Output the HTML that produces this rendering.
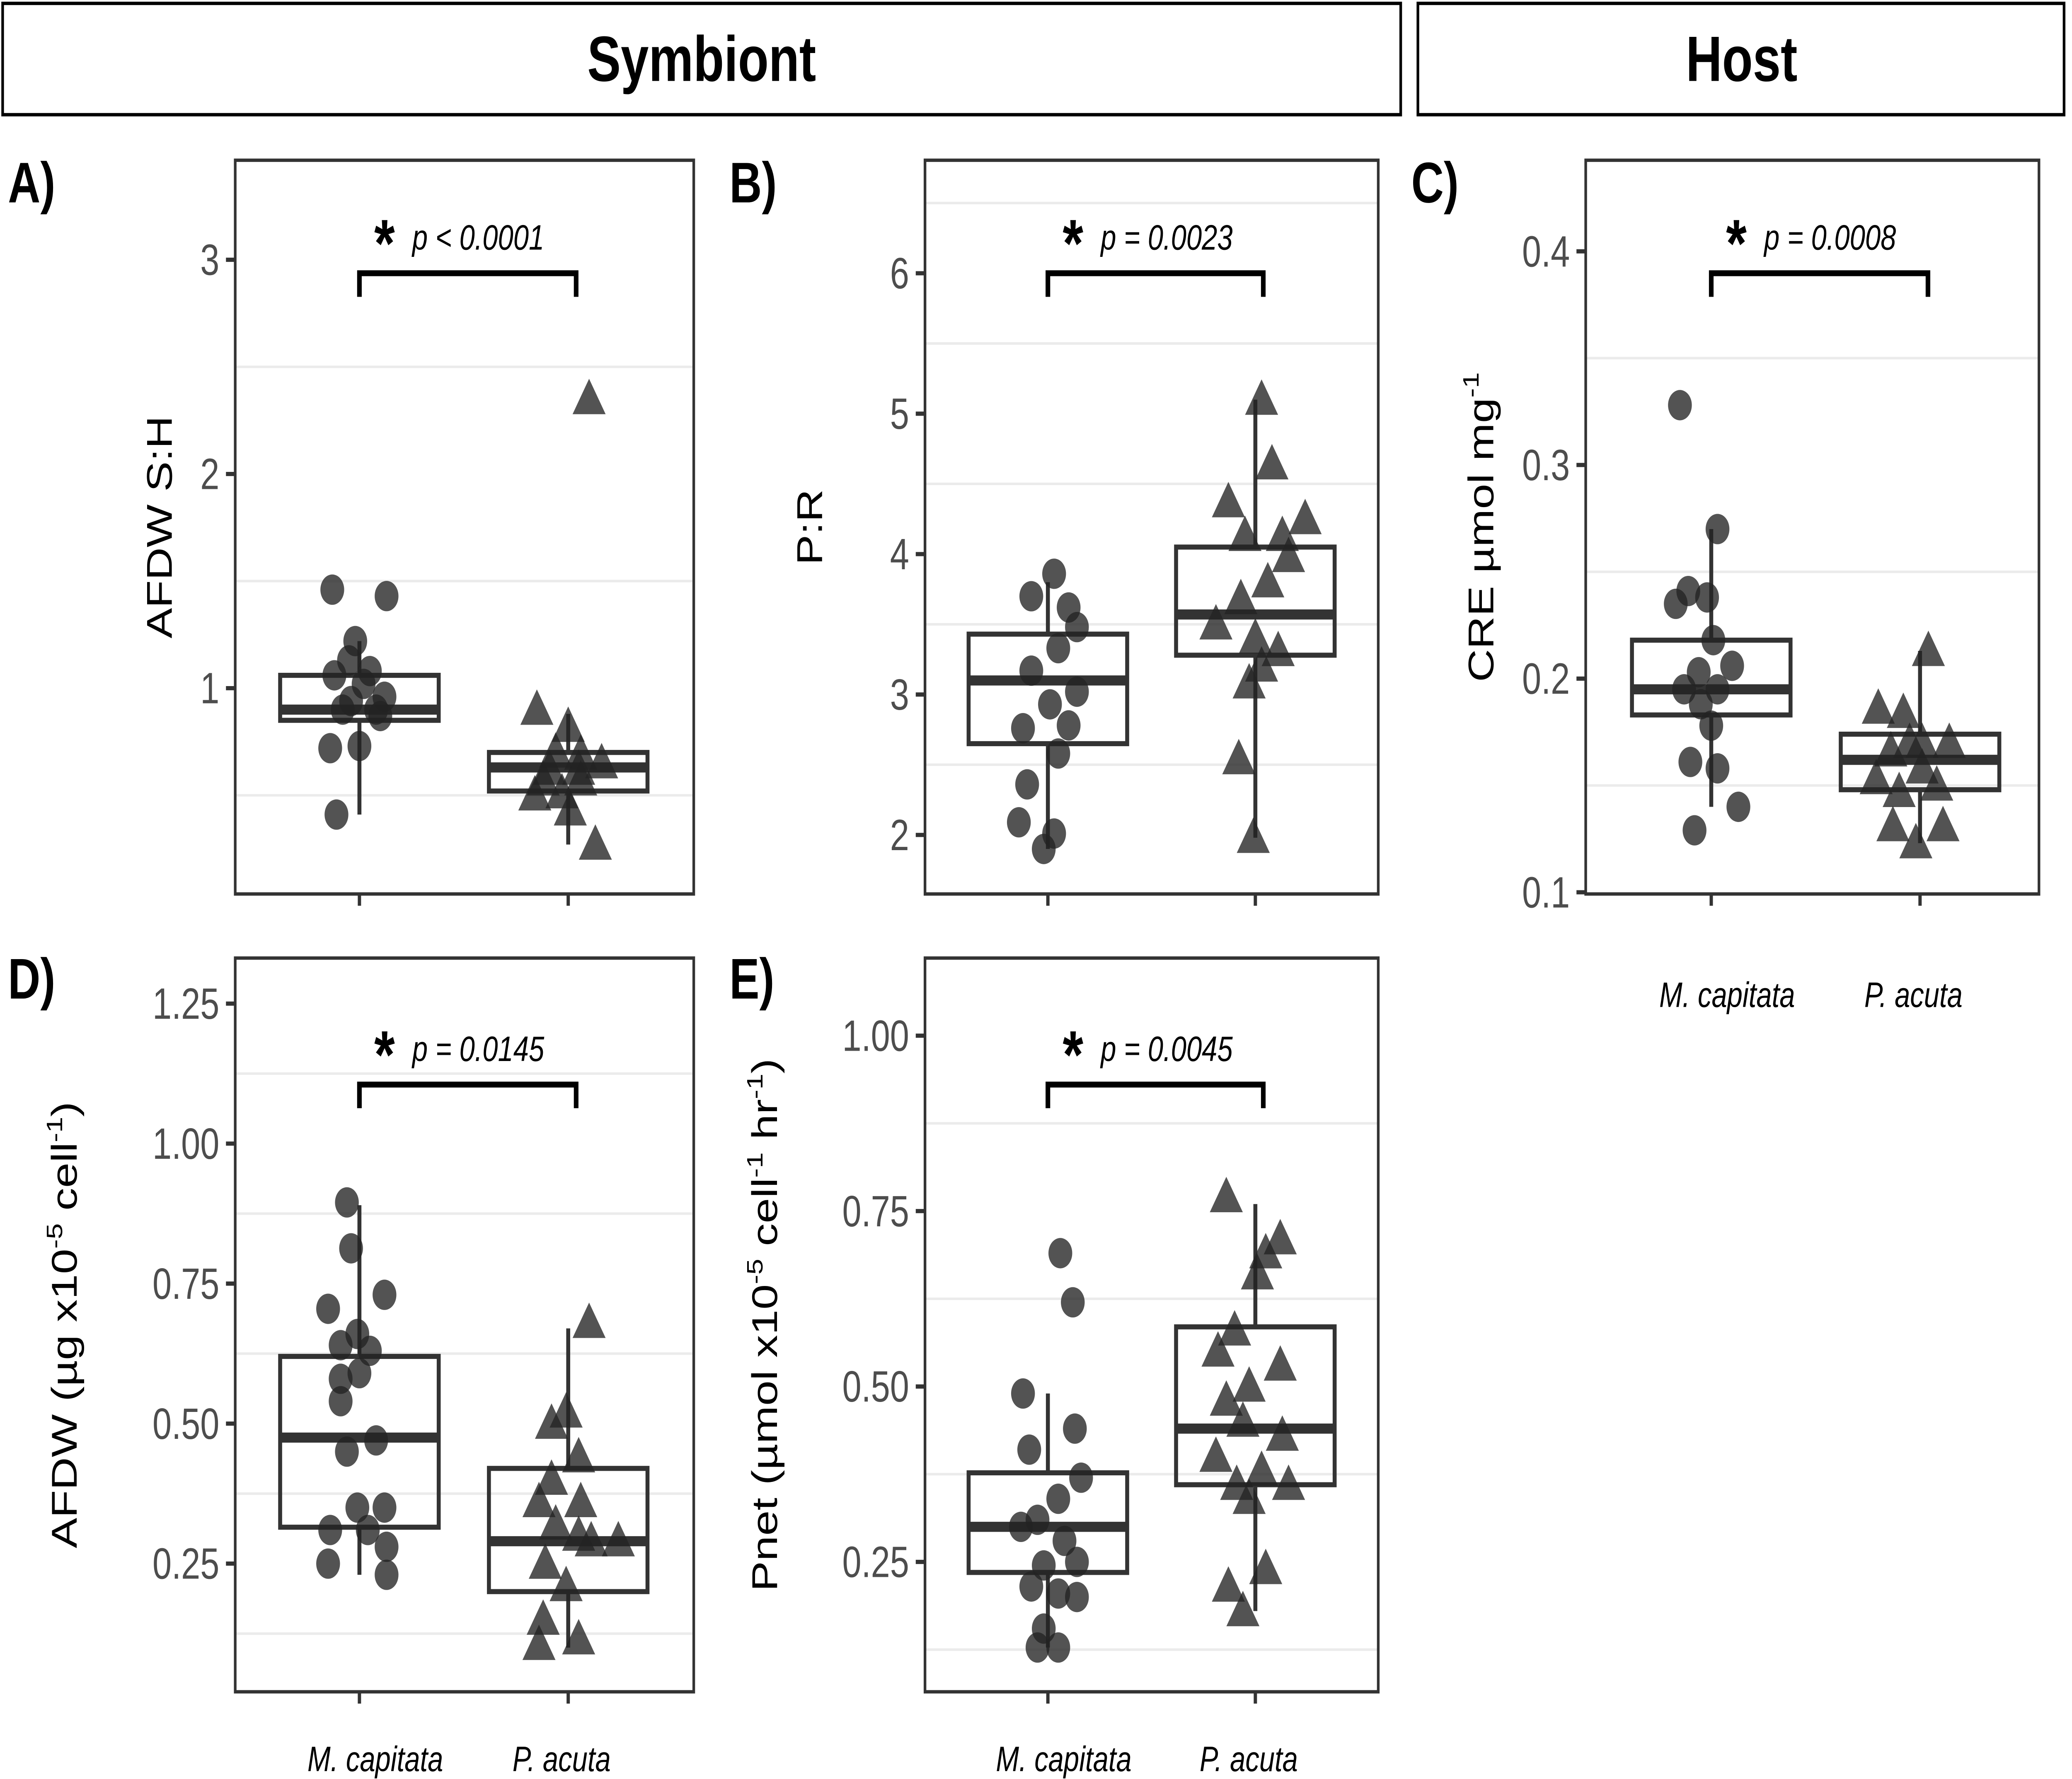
<!DOCTYPE html>
<html><head><meta charset="utf-8"><style>
html,body{margin:0;padding:0;background:#fff;overflow:hidden;width:100%;height:100%}
svg{display:block;width:100vw;height:100vh}
text{font-family:"Liberation Sans",Arial,sans-serif}
</style></head><body>
<svg id="fig" xmlns="http://www.w3.org/2000/svg" viewBox="0 0 1568 1054.7" preserveAspectRatio="none">
<rect x="0" y="0" width="1568" height="1054.7" fill="#fff"/>
<g>
<rect x="2" y="2" width="1058" height="66" fill="#fff" stroke="#000" stroke-width="2"/>
<text x="531" y="48" text-anchor="middle" font-size="38" font-weight="bold">Symbiont</text></g>
<g>
<rect x="1073" y="2" width="489" height="66" fill="#fff" stroke="#000" stroke-width="2"/>
<text x="1318" y="48" text-anchor="middle" font-size="38" font-weight="bold">Host</text></g>
</svg>
<script>
// Panel A
const A_cats=["M. capitata","P. acuta"];
const A_ticks=[1,2,3];
const A_m=[1.46,1.43,1.22,1.13,1.06,1.08,0.96,1.02,0.9,0.72,0.73,0.41,0.94,0.9,0.87];
const A_mJ=[-0.13,0.13,-0.02,-0.05,-0.12,0.05,0.12,0.02,0.08,-0.14,0.0,-0.11,-0.04,-0.08,0.1];
const A_p=[2.35,0.9,0.82,0.7,0.69,0.65,0.57,0.57,0.51,0.5,0.43,0.27,0.62,0.62];
const A_pJ=[0.1,-0.15,0.0,-0.06,0.06,0.16,-0.12,0.06,-0.03,-0.16,0.01,0.13,-0.09,0.05];
const A_mBox=[0.41,0.85,0.9,1.06,1.22];
const A_pBox=[0.27,0.52,0.63,0.7,0.88];
// Panel B
const B_ticks=[2,3,4,5,6];
const B_m=[3.86,3.7,3.62,3.48,3.33,3.17,3.02,2.78,2.76,2.58,2.36,2.09,2.01,1.9,2.93];
const B_mJ=[0.03,-0.08,0.1,0.14,0.05,-0.08,0.14,0.1,-0.12,0.05,-0.1,-0.14,0.03,-0.02,0.01];
const B_p=[5.1,4.64,4.37,4.25,4.13,4.13,3.8,3.68,3.5,3.4,3.31,3.2,3.08,2.54,1.98,3.98];
const B_pJ=[0.03,0.08,-0.13,0.24,-0.05,0.13,0.06,-0.07,-0.19,0.0,0.11,0.03,-0.03,-0.08,-0.01,0.16];
const B_mBox=[1.9,2.65,3.1,3.43,3.8];
const B_pBox=[1.98,3.28,3.57,4.05,5.1];
// Panel C
const C_ticks=[0.1,0.2,0.3,0.4];
const C_m=[0.328,0.27,0.241,0.238,0.235,0.218,0.206,0.203,0.195,0.195,0.188,0.178,0.161,0.158,0.14,0.129];
const C_mJ=[-0.15,0.03,-0.11,-0.02,-0.17,0.01,0.1,-0.06,-0.13,0.03,-0.05,0.0,-0.1,0.03,0.13,-0.08];
const C_p=[0.213,0.186,0.184,0.17,0.17,0.166,0.158,0.153,0.147,0.15,0.131,0.131,0.123,0.17];
const C_pJ=[0.04,-0.2,-0.08,0.14,-0.05,-0.14,0.01,-0.21,-0.1,0.08,-0.13,0.11,-0.02,0.01];
const C_mBox=[0.14,0.183,0.195,0.218,0.27];
const C_pBox=[0.123,0.148,0.162,0.174,0.213];
// Panel D
const D_ticks=[0.25,0.5,0.75,1.0,1.25];
const D_m=[0.895,0.813,0.73,0.705,0.66,0.64,0.63,0.58,0.59,0.54,0.47,0.45,0.35,0.35,0.31,0.31,0.28,0.25,0.23];
const D_mJ=[-0.06,-0.04,0.12,-0.15,-0.01,-0.09,0.05,-0.09,0.0,-0.09,0.08,-0.06,-0.01,0.12,-0.14,0.04,0.13,-0.15,0.13];
const D_p=[0.68,0.52,0.5,0.44,0.4,0.36,0.36,0.32,0.3,0.29,0.29,0.25,0.21,0.15,0.115,0.105];
const D_pJ=[0.1,-0.01,-0.08,0.05,-0.08,-0.14,0.06,-0.06,0.05,0.24,0.11,-0.11,-0.01,-0.12,0.05,-0.14];
const D_mBox=[0.23,0.315,0.475,0.62,0.89];
const D_pBox=[0.1,0.2,0.29,0.42,0.67];
// Panel E
const E_ticks=[0.25,0.5,0.75,1.0];
const E_m=[0.69,0.62,0.49,0.41,0.44,0.37,0.34,0.31,0.3,0.28,0.245,0.25,0.205,0.215,0.2,0.155,0.128,0.128];
const E_mJ=[0.06,0.12,-0.12,-0.09,0.13,0.16,0.05,-0.05,-0.13,0.08,-0.02,0.14,0.05,-0.08,0.14,-0.02,0.05,-0.05];
const E_p=[0.77,0.71,0.69,0.66,0.58,0.55,0.53,0.5,0.48,0.45,0.43,0.4,0.38,0.36,0.36,0.34,0.24,0.215,0.18];
const E_pJ=[-0.14,0.12,0.05,0.01,-0.1,-0.18,0.12,-0.03,-0.14,-0.06,0.13,-0.19,0.03,-0.09,0.16,-0.03,0.05,-0.13,-0.06];
const E_mBox=[0.128,0.235,0.3,0.377,0.49];
const E_pBox=[0.18,0.36,0.44,0.585,0.76];

const NS="http://www.w3.org/2000/svg";
const svg=document.getElementById('fig');
function mk(tag,attrs,parent){const e=document.createElementNS(NS,tag);for(const k in attrs)e.setAttribute(k,attrs[k]);(parent||svg).appendChild(e);return e;}

function panel(cfg){
  const g=mk('g',{});
  
  
  const L=cfg.x0,R=cfg.x1,T=cfg.y0,B=cfg.y1;
  const ys=v=>cfg.py0+(v-cfg.v0)*(cfg.py1-cfg.py0)/(cfg.v1-cfg.v0);
  const cx=[cfg.cx0,cfg.cx1];
  const xs=(c,j)=>cx[c]+j*(cfg.cx1-cfg.cx0);
  for(let i=0;i<cfg.ticks.length+1;i++){
    const step=cfg.ticks[1]-cfg.ticks[0];
    const v=cfg.ticks[0]-step/2+i*step;
    const y=ys(v);
    if(y>T&&y<B){const l=mk('line',{x1:L,x2:R,y1:y,y2:y,stroke:'#ebebeb','stroke-width':1.5},g);
      
      }
  }
  cfg.ticks.forEach(v=>{const y=ys(v);
    mk('line',{x1:L-7,x2:L,y1:y,y2:y,stroke:'#333','stroke-width':2.5},g);
    const t=mk('text',{x:L-12,y:y+9,'text-anchor':'end','font-size':26,fill:'#4d4d4d'},g);
    t.textContent=cfg.fmt(v);
    
    });
  [0,1].forEach(c=>mk('line',{x1:cx[c],x2:cx[c],y1:B,y2:B+7,stroke:'#333','stroke-width':2.5},g));
  if(cfg.xlab){[0,1].forEach(c=>{const t=mk('text',{x:cx[c]+(c?-5:12),y:cfg.xlabY,'text-anchor':'middle','font-size':21,'font-style':'italic'},g);
    t.textContent=A_cats[c];
    
    });}
  [cfg.mBox,cfg.pBox].forEach((b,c)=>{
    const x=cx[c];
    const bg=mk('g',{},g);
    
    
    mk('line',{x1:x,x2:x,y1:ys(b[0]),y2:ys(b[1]),stroke:'#333','stroke-width':3},bg);
    mk('line',{x1:x,x2:x,y1:ys(b[3]),y2:ys(b[4]),stroke:'#333','stroke-width':3},bg);
    mk('rect',{x:x-60,y:ys(b[3]),width:120,height:ys(b[1])-ys(b[3]),fill:'none',stroke:'#333','stroke-width':3},bg);
    mk('line',{x1:x-60,x2:x+60,y1:ys(b[2]),y2:ys(b[2]),stroke:'#333','stroke-width':6},bg);
  });
  cfg.m.forEach((v,i)=>{const c=mk('circle',{cx:xs(0,cfg.mJ[i]),cy:ys(v),r:9,fill:'#222','fill-opacity':0.78},g);
    
    });
  cfg.p.forEach((v,i)=>{const x=xs(1,cfg.pJ[i]),y=ys(v);
    const p=mk('polygon',{points:`${x},${y-12} ${x-12.5},${y+9} ${x+12.5},${y+9}`,fill:'#222','fill-opacity':0.78},g);
    
    });
  mk('rect',{x:L,y:T,width:R-L,height:B-T,fill:'none',stroke:'#333','stroke-width':2},g);
  const sg=mk('g',{},g);
  
  
  const by=cfg.brY;
  mk('path',{d:`M${cx[0]},${by+14} V${by} H${cx[1]+6} V${by+14}`,fill:'none',stroke:'#000','stroke-width':3.5},sg);
  const st=mk('text',{x:cx[0]+19,y:by-4,'text-anchor':'middle','font-size':40,'font-weight':'bold'},sg);
  st.textContent='*';
  const pt=mk('text',{x:cx[0]+40,y:by-14,'font-size':21,'font-style':'italic'},sg);
  pt.textContent=cfg.ptxt;
  const lt=mk('text',{x:cfg.letX,y:cfg.letY,'font-size':34,'font-weight':'bold'},g);
  lt.textContent=cfg.id+')';
  
  
  const yt=mk('text',{transform:`translate(${cfg.ytX},${(T+B)/2}) rotate(-90)`,'text-anchor':'middle','font-size':27},g);
  yt.innerHTML=cfg.ytitle;
  
  
}
const f0=v=>String(v), f1=v=>v.toFixed(1), f2=v=>v.toFixed(2);
panel({id:'A',x0:178,x1:525,y0:95,y1:530,cx0:272,cx1:430,v0:1,v1:3,py0:408,py1:154,ticks:A_ticks,fmt:f0,
  m:A_m,mJ:A_mJ,p:A_p,pJ:A_pJ,mBox:A_mBox,pBox:A_pBox,brY:162,ptxt:'p < 0.0001',letX:6,letY:120,ytX:130,ytitle:'AFDW S:H'});
panel({id:'B',x0:700,x1:1043,y0:95,y1:530,cx0:793,cx1:950,v0:2,v1:6,py0:495,py1:162,ticks:B_ticks,fmt:f0,
  m:B_m,mJ:B_mJ,p:B_p,pJ:B_pJ,mBox:B_mBox,pBox:B_pBox,brY:162,ptxt:'p = 0.0023',letX:552,letY:120,ytX:622,ytitle:'P:R'});
panel({id:'C',x0:1200,x1:1543,y0:95,y1:530,cx0:1295,cx1:1453,v0:0.1,v1:0.4,py0:529,py1:149,ticks:C_ticks,fmt:f1,
  m:C_m,mJ:C_mJ,p:C_p,pJ:C_pJ,mBox:C_mBox,pBox:C_pBox,brY:162,ptxt:'p = 0.0008',letX:1068,letY:120,ytX:1130,
  ytitle:'CRE µmol mg<tspan font-size="17" dy="-11">-1</tspan>',xlab:true,xlabY:597});
panel({id:'D',x0:178,x1:525,y0:568,y1:1003,cx0:272,cx1:430,v0:0.25,v1:1.25,py0:927,py1:595,ticks:D_ticks,fmt:f2,
  m:D_m,mJ:D_mJ,p:D_p,pJ:D_pJ,mBox:D_mBox,pBox:D_pBox,brY:643,ptxt:'p = 0.0145',letX:6,letY:592,ytX:58,
  ytitle:'AFDW (µg x10<tspan font-size="17" dy="-11">-5</tspan><tspan dy="11"> cell</tspan><tspan font-size="17" dy="-11">-1</tspan><tspan dy="11">)</tspan>',xlab:true,xlabY:1050});
panel({id:'E',x0:700,x1:1043,y0:568,y1:1003,cx0:793,cx1:950,v0:0.25,v1:1.0,py0:926,py1:614,ticks:E_ticks,fmt:f2,
  m:E_m,mJ:E_mJ,p:E_p,pJ:E_pJ,mBox:E_mBox,pBox:E_pBox,brY:643,ptxt:'p = 0.0045',letX:552,letY:592,ytX:588,
  ytitle:'Pnet (µmol x10<tspan font-size="17" dy="-11">-5</tspan><tspan dy="11"> cell</tspan><tspan font-size="17" dy="-11">-1</tspan><tspan dy="11"> hr</tspan><tspan font-size="17" dy="-11">-1</tspan><tspan dy="11">)</tspan>',xlab:true,xlabY:1050});
</script>
</body></html>
